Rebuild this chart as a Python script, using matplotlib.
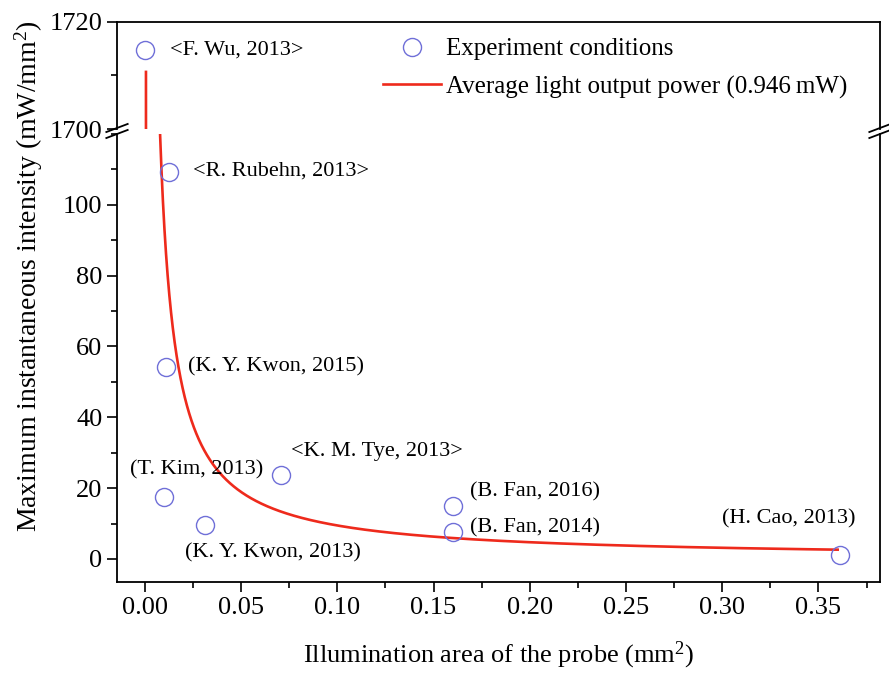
import numpy as np
import matplotlib
matplotlib.use('Agg')
import matplotlib.pyplot as plt
from matplotlib.lines import Line2D
from matplotlib.ticker import MultipleLocator

plt.rcParams['font.family'] = ['Liberation Serif', 'DejaVu Serif']
plt.rcParams['mathtext.fontset'] = 'custom'
plt.rcParams['mathtext.rm'] = 'Liberation Serif'
plt.rcParams['mathtext.it'] = 'Liberation Serif:italic'

# experiment conditions: illumination area (mm^2) vs intensity (mW/mm^2)
autores = ['<F. Wu, 2013>', '<R. Rubehn, 2013>', '(K. Y. Kwon, 2015)', '(T. Kim, 2013)',
           '(K. Y. Kwon, 2013)', '<K. M. Tye, 2013>', '(B. Fan, 2016)', '(B. Fan, 2014)',
           '(H. Cao, 2013)']
areas = [0.0, 0.0125, 0.011, 0.0099, 0.031, 0.0706, 0.16, 0.16, 0.361]
intensidades = [1714.7, 109.4, 54.3, 17.6, 9.7, 23.6, 15.0, 7.7, 1.1]

# posicao dos rotulos (x, y) em unidades de dados
rotulos_x = [0.013, 0.025, 0.0223, -0.0078, 0.0208, 0.0758, 0.169, 0.169, 0.300]
rotulos_y = [1714.7, 109.4, 54.3, 25.3, 1.7, 30.4, 19.0, 8.8, 11.4]

potencia_media = 0.946  # mW
x_curva = np.linspace(0.000553, 0.36, 4000)
y_curva = potencia_media / x_curva

cor_ponto = '#6f6fd8'
cor_linha = '#ee2a1c'

fig = plt.figure(figsize=(8.89, 6.73), dpi=100)
esq, dir_ = 117 / 889, 880 / 889
ax_cima = fig.add_axes([esq, 1 - 129 / 673, dir_ - esq, (129 - 22) / 673])
ax_baixo = fig.add_axes([esq, 1 - 582 / 673, dir_ - esq, (582 - 134) / 673])

for ax in (ax_cima, ax_baixo):
    ax.plot(x_curva, y_curva, color=cor_linha, lw=1.9, zorder=2)
    ax.plot(areas, intensidades, 'o', ms=13, mfc='none', mec=cor_ponto, mew=1.0, zorder=3)
    ax.set_xlim(-0.0145, 0.382)
    ax.tick_params(which='both', direction='out', top=False, right=False, labelsize=19, width=1.2)
    ax.tick_params(which='major', length=7)
    ax.tick_params(which='minor', length=4)
    for s in ax.spines.values():
        s.set_linewidth(1.3)

ax_cima.set_ylim(1700, 1720)
ax_cima.set_yticks([1700, 1720])
ax_cima.yaxis.set_minor_locator(MultipleLocator(10))
ax_cima.spines['bottom'].set_visible(False)
ax_cima.tick_params(axis='x', which='both', bottom=False, labelbottom=False)

ax_baixo.set_ylim(-6.5, 120)
ax_baixo.set_yticks([0, 20, 40, 60, 80, 100])
ax_baixo.yaxis.set_minor_locator(MultipleLocator(10))
ax_baixo.set_xticks(np.arange(0, 0.36, 0.05))
ax_baixo.xaxis.set_minor_locator(MultipleLocator(0.025))
ax_baixo.xaxis.set_major_formatter(matplotlib.ticker.FormatStrFormatter('%.2f'))
ax_baixo.spines['top'].set_visible(False)
ax_baixo.set_xlabel('Illumination area of the probe (mm$^2$)', fontsize=19, labelpad=15)

for nome, tx, ty in zip(autores, rotulos_x, rotulos_y):
    ax = ax_cima if ty > 1000 else ax_baixo
    ax.text(tx, ty, nome, fontsize=16, va='center', ha='left')

fig.text(29 / 889, 1 - 276 / 673, 'Maximum instantaneous intensity (mW/mm$^2$)',
         rotation=90, fontsize=20, ha='center', va='center')

# marcas de quebra do eixo y
for xc in (esq, dir_):
    for yc in (1 - 128 / 673, 1 - 134 / 673):
        fig.add_artist(Line2D([xc - 0.012, xc + 0.012], [yc - 0.006, yc + 0.006],
                              transform=fig.transFigure, color='black', lw=1.3))

handles = [Line2D([], [], marker='o', ls='none', ms=13, mfc='none', mec=cor_ponto, mew=1.0),
           Line2D([], [], color=cor_linha, lw=1.9)]
fig.legend(handles, ['Experiment conditions', 'Average light output power (0.946\u2009mW)'],
           loc='upper left', bbox_to_anchor=(383 / 889, 1 - 38 / 673), frameon=False,
           fontsize=18, handlelength=2.3, handletextpad=0.2, borderpad=0, borderaxespad=0,
           labelspacing=0.6)

fig.savefig('out.png', dpi=100)
